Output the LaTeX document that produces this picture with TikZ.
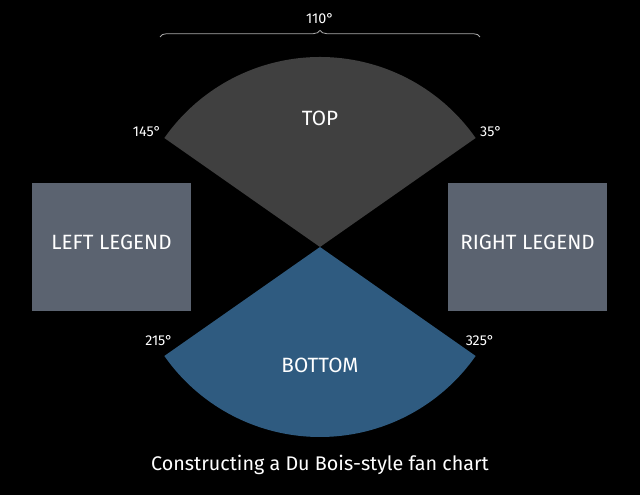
\documentclass[tikz,border=0pt]{standalone}
\usepackage{fontspec}
\setmainfont{Fira Sans}
\usepackage{xcolor}
\usetikzlibrary{decorations.pathreplacing,positioning}

\definecolor{topgray}{HTML}{404040}
\definecolor{bottomblue}{HTML}{2F5B80}
\definecolor{legendgray}{HTML}{5B6370}
\definecolor{bracegray}{HTML}{A8A8A8}

\begin{document}
\begin{tikzpicture}[
    x=0.75pt,
    y=0.75pt,
    every node/.style={font=\fontsize{15.5}{18}\selectfont, text=white},
    legendbox/.style={fill=legendgray, minimum width=119.25pt,
        minimum height=96pt, inner sep=0pt, text depth=7.5pt},
    anglelabel/.style={font=\fontsize{10.7}{12}\selectfont}
]

% ---------------------------------------------------------
% Canvas
% ---------------------------------------------------------

\fill[black] (0,0) rectangle (640,495);
\useasboundingbox (0,0) rectangle (640,495);

\coordinate (C) at (320,248);

% ---------------------------------------------------------
% Wedges
% ---------------------------------------------------------

\fill[topgray]
    (C) -- ++(145:190)
    arc[start angle=145, end angle=35, radius=190]
    -- cycle;

\fill[bottomblue]
    (C) -- ++(215:190)
    arc[start angle=215, end angle=325, radius=190]
    -- cycle;

\node (top) at (320,377) {TOP};
\node (bottom) at (320,130) {BOTTOM};

% Angle labels
\node[anglelabel] (a145) at (147,363) {145°};
\node[anglelabel] (a35) at (491,363) {35°};
\node[anglelabel] (a215) at (159,154) {215°};
\node[anglelabel] (a325) at (480,154) {325°};

% ---------------------------------------------------------
% Span brace
% ---------------------------------------------------------

\draw[bracegray, line width=0.6pt,
    decorate, decoration={brace, amplitude=5pt}]
    (160,458) -- (480,458);

\node[anglelabel] (span) at (320,476) {110°};

% ---------------------------------------------------------
% Legends
% ---------------------------------------------------------

\node[legendbox] (leftlegend) at (111.5,248) {LEFT LEGEND};
\node[legendbox] (rightlegend) at (527.5,248) {RIGHT LEGEND};

% Caption
\node[font=\fontsize{14.8}{17}\selectfont] (caption) at (320,30)
    {Constructing a Du Bois-style fan chart};

\end{tikzpicture}
\end{document}
